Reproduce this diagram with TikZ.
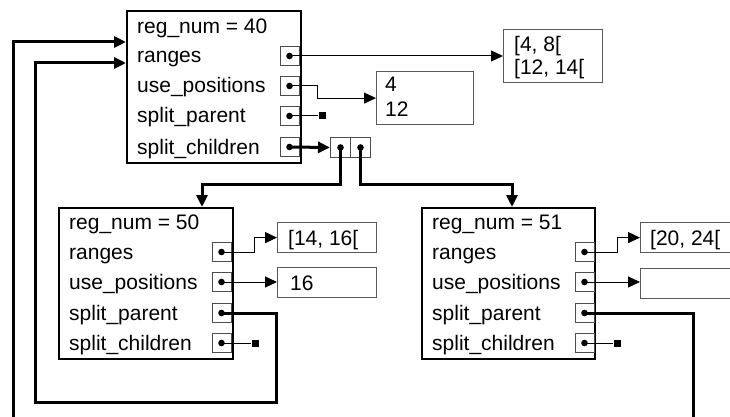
\documentclass[tikz,border=0pt]{standalone}
\usepackage{fontspec}
\setmainfont{Liberation Sans}
\usetikzlibrary{arrows.meta,calc}
\tikzset{
  mainbox/.style={draw=black, line width=2pt, rectangle, inner sep=0pt, anchor=north west},
  port/.style={draw=black!70, line width=1pt, rectangle, minimum width=19pt, minimum height=19pt, inner sep=0pt},
  valbox/.style={draw=black!65, line width=1.2pt, rectangle, inner sep=0pt, anchor=north west},
  cell/.style={draw=black!70, line width=1pt, rectangle, minimum width=20pt, minimum height=20pt, inner sep=0pt, anchor=north west},
  lbl/.style={anchor=base west, inner sep=0pt, font=\fontsize{21}{25}\selectfont},
  nullsq/.style={fill=black, rectangle, minimum size=7pt, inner sep=0pt},
  ptr/.style={line width=1pt, -{Triangle[length=12pt,width=11pt]}},
  bigptr/.style={line width=3pt, -{Triangle[length=12pt,width=11pt]}},
  plain/.style={line width=1pt},
}
\newcommand{\dotat}[1]{\fill (#1.center) circle (3.3pt);}
\begin{document}
\begin{tikzpicture}[x=1pt,y=-1pt]
\useasboundingbox (0,0) rectangle (730,417);
\clip (0,0) rectangle (730,417);
\fill[white] (0,0) rectangle (730,417);
% ---------- main box (reg 40)
\node[mainbox, minimum width=174pt, minimum height=152pt] (A) at (126,10) {};
\node[lbl] (A0) at (137,34) {reg\_num = 40};
\node[lbl] (A1) at (137,63) {ranges};
\node[lbl] (A2) at (137,93) {use\_positions};
\node[lbl] (A3) at (137,123) {split\_parent};
\node[lbl] (A4) at (137,154) {split\_children};
\node[port] (Ar) at (289.5,56) {};
\node[port] (Au) at (289.5,86) {};
\node[port] (Ap) at (289.5,116) {};
\node[port] (Ac) at (289.5,147) {};
\coordinate (Ain1) at (126,42);
\coordinate (Ain2) at (126,63);
% values of main box
\node[valbox, minimum width=99pt, minimum height=53pt] (R0) at (503,29) {};
\node[lbl] (R0a) at (514,52) {[4, 8[};
\node[lbl] (R0b) at (514,75) {[12, 14[};
\node[valbox, minimum width=97pt, minimum height=53pt] (U0) at (376,71) {};
\node[lbl] (U0a) at (385,92) {4};
\node[lbl] (U0b) at (385,117) {12};
\node[nullsq] (nA) at (322,116) {};
\node[cell] (C1) at (330,137) {};
\node[cell] (C2) at (350,137) {};
% ---------- box reg 50
\node[mainbox, minimum width=174pt, minimum height=151pt] (B) at (58,207) {};
\node[lbl] (B0) at (69,229) {reg\_num = 50};
\node[lbl] (B1) at (69,259) {ranges};
\node[lbl] (B2) at (69,289) {use\_positions};
\node[lbl] (B3) at (69,320) {split\_parent};
\node[lbl] (B4) at (69,350) {split\_children};
\node[port] (Br) at (221.5,252) {};
\node[port] (Bu) at (221.5,282) {};
\node[port] (Bp) at (221.5,313) {};
\node[port] (Bc) at (221.5,343) {};
\coordinate (Bin) at (202,207);
\node[valbox, minimum width=99pt, minimum height=30pt] (R1) at (277,222) {};
\node[lbl] (R1a) at (288,245) {[14, 16[};
\node[valbox, minimum width=99pt, minimum height=30pt] (U1) at (277,267) {};
\node[lbl] (U1a) at (290,290) {16};
\node[nullsq] (nB) at (255,343) {};
% ---------- box reg 51
\node[mainbox, minimum width=173pt, minimum height=151pt] (D) at (421,207) {};
\node[lbl] (D0) at (432,229) {reg\_num = 51};
\node[lbl] (D1) at (432,259) {ranges};
\node[lbl] (D2) at (432,289) {use\_positions};
\node[lbl] (D3) at (432,320) {split\_parent};
\node[lbl] (D4) at (432,350) {split\_children};
\node[port] (Dr) at (584.5,252) {};
\node[port] (Du) at (584.5,282) {};
\node[port] (Dp) at (584.5,313) {};
\node[port] (Dc) at (584.5,343) {};
\coordinate (Din) at (512,207);
\node[valbox, minimum width=100pt, minimum height=30pt] (R2) at (640,222) {};
\node[lbl] (R2a) at (650,245) {[20, 24[};
\node[valbox, minimum width=100pt, minimum height=30pt] (U2) at (640,268) {};
\node[nullsq] (nD) at (617,343) {};
% ---------- connectors
\draw[ptr] (Ar.center) -- (Ar.center -| R0.west);
\draw[ptr] (Au.center) -- ++(27.5,0) |- (U0.west);
\draw[plain] (Ap.center) -- (nA);
\draw[bigptr] (Ac.center) -- (C1.west);
\draw[bigptr] (C1.center) -- ++(0,37) -| (Bin);
\draw[bigptr] (C2.center) -- ++(0,37) -| (Din);
\draw[ptr] (Br.center) -- ++(33,0) |- (R1.west);
\draw[ptr] (Bu.center) -- (Bu.center -| U1.west);
\draw[plain] (Bc.center) -- (nB);
\draw[ptr] (Dr.center) -- ++(32.5,0) |- (R2.west);
\draw[ptr] (Du.center) -- (Du.center -| U2.west);
\draw[plain] (Dc.center) -- (nD);
\draw[bigptr] (Bp.center) -| (276,402) -| (35,63) -- (Ain2);
\draw[bigptr] (Dp.center) -| (693,440) -| (13,42) -- (Ain1);
% dots
\foreach \p in {Ar,Au,Ap,Ac,C1,C2,Br,Bu,Bp,Bc,Dr,Du,Dp,Dc} {\dotat{\p}}
\end{tikzpicture}
\end{document}
